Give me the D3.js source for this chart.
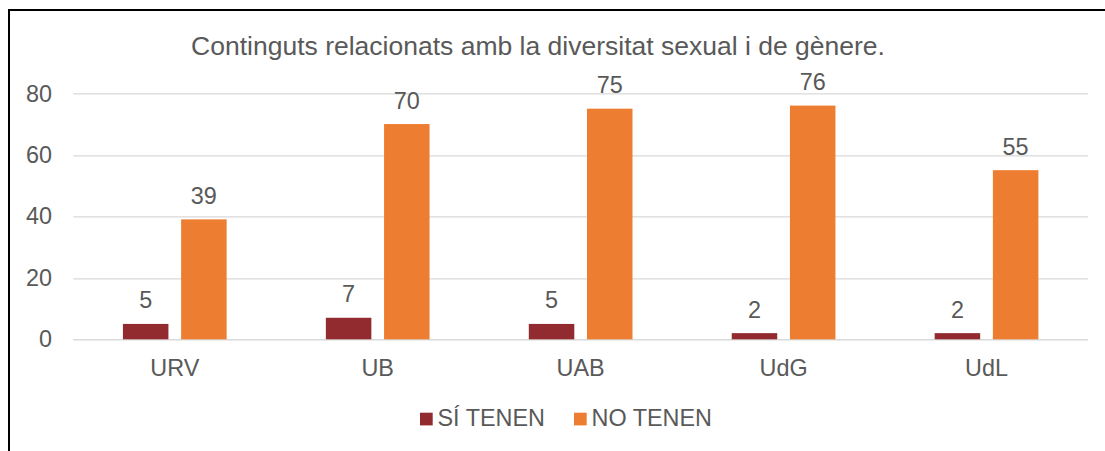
<!DOCTYPE html>
<html>
<head>
<meta charset="utf-8">
<script src="https://cdn.jsdelivr.net/npm/d3@7"></script>
<style>
  body { margin: 0; background: #fff; }
  text { font-family: "Liberation Sans", Arial, sans-serif; fill: #595959; }
</style>
</head>
<body>
<div id="chart"></div>
<script>
var title = "Continguts relacionats amb la diversitat sexual i de gènere.";
var categories = ["URV", "UB", "UAB", "UdG", "UdL"];
var seriesNames = ["SÍ TENEN", "NO TENEN"];
var siTenen = [5, 7, 5, 2, 2];
var noTenen = [39, 70, 75, 76, 55];
var yTicks = [0, 20, 40, 60, 80];

var colors = ["#922B2F", "#ED7D31"];

var W = 1105, H = 451;
var margin = {top: 93.3, right: 17, bottom: 111.7, left: 73.3};
var width = W - margin.left - margin.right,
    height = H - margin.top - margin.bottom;

var data = categories.map(function(c, i) {
  return {cat: c, values: [siTenen[i], noTenen[i]]};
});

var svg = d3.select("#chart").append("svg")
  .attr("width", W)
  .attr("height", H);

// outer frame (cut off at right and bottom)
svg.append("rect")
  .attr("x", 9).attr("y", 10)
  .attr("width", W + 10).attr("height", H + 10)
  .attr("fill", "none")
  .attr("stroke", "#000")
  .attr("stroke-width", 2);

svg.append("text")
  .attr("x", 538)
  .attr("y", 55)
  .attr("text-anchor", "middle")
  .attr("font-size", "26.5px")
  .text(title);

var g = svg.append("g")
  .attr("transform", "translate(" + margin.left + "," + margin.top + ")");

var x = d3.scaleBand()
  .domain(categories)
  .range([0, width]);

var y = d3.scaleLinear()
  .domain([0, 80])
  .range([height, 0]);

// gridlines
g.append("g")
  .selectAll("line")
  .data(yTicks)
  .enter().append("line")
  .attr("x1", 0).attr("x2", width)
  .attr("y1", function(d) { return Math.round(y(d)) + 0.5; })
  .attr("y2", function(d) { return Math.round(y(d)) + 0.5; })
  .attr("stroke", "#d9d9d9")
  .attr("stroke-width", function(d) { return d === 0 ? 1.5 : 1.2; });

// y tick labels
g.append("g")
  .selectAll("text")
  .data(yTicks)
  .enter().append("text")
  .attr("x", -21.3)
  .attr("y", function(d) { return y(d); })
  .attr("dy", "0.35em")
  .attr("text-anchor", "end")
  .attr("font-size", "23.4px")
  .text(function(d) { return d; });

var barW = 45.5, gap = 12.7;
var x1 = d3.scaleOrdinal()
  .domain([0, 1])
  .range([-(gap / 2 + barW), gap / 2]);

var groups = g.append("g")
  .selectAll("g")
  .data(data)
  .enter().append("g")
  .attr("transform", function(d) { return "translate(" + (x(d.cat) + x.bandwidth() / 2) + ",0)"; });

groups.selectAll("rect")
  .data(function(d) { return d.values.map(function(v, i) { return {i: i, v: v}; }); })
  .enter().append("rect")
  .attr("x", function(d) { return x1(d.i); })
  .attr("y", function(d) { return y(d.v); })
  .attr("width", barW)
  .attr("height", function(d) { return y(0) - y(d.v); })
  .attr("fill", function(d) { return colors[d.i]; });

groups.selectAll("text")
  .data(function(d) { return d.values.map(function(v, i) { return {i: i, v: v}; }); })
  .enter().append("text")
  .attr("x", function(d) { return x1(d.i) + barW / 2; })
  .attr("y", function(d) { return y(d.v) - 15.5; })
  .attr("text-anchor", "middle")
  .attr("font-size", "23.4px")
  .text(function(d) { return d.v; });

// category labels
g.append("g")
  .selectAll("text")
  .data(categories)
  .enter().append("text")
  .attr("x", function(d) { return x(d) + x.bandwidth() / 2; })
  .attr("y", height + 36.7)
  .attr("text-anchor", "middle")
  .attr("font-size", "23.4px")
  .text(function(d) { return d; });

// legend
var legendX = [420, 574];
var legend = svg.append("g")
  .selectAll("g")
  .data(seriesNames)
  .enter().append("g")
  .attr("transform", function(d, i) { return "translate(" + legendX[i] + ",412.7)"; });

legend.append("rect")
  .attr("width", 12.7).attr("height", 12.7)
  .attr("fill", function(d, i) { return colors[i]; });

legend.append("text")
  .attr("x", 17.5)
  .attr("y", 13.3)
  .attr("font-size", "23.4px")
  .text(function(d) { return d; });
</script>
</body>
</html>
